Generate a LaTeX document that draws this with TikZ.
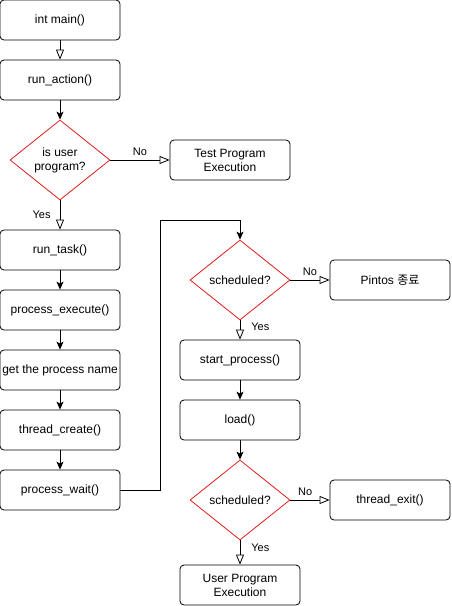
\documentclass[tikz,border=0pt]{standalone}
\usepackage{fontspec}
\setmainfont{Liberation Sans}
\newfontfamily\krfont{Noto Sans CJK KR}
\usetikzlibrary{shapes.geometric,arrows.meta}
\definecolor{decred}{RGB}{225,30,30}
\tikzset{
  stepbox/.style={draw, rounded corners=4pt, line width=0.8pt, minimum width=120pt,
    minimum height=40pt, inner sep=1pt, align=center, font=\fontsize{12}{14}\selectfont},
  decision/.style={draw=decred, diamond, line width=0.8pt, aspect=1.25, minimum width=100pt,
    minimum height=80pt, inner sep=0pt, align=center, font=\fontsize{12}{14}\selectfont},
  flow/.style={-{Stealth[length=8pt,width=7pt,inset=2pt]}, line width=0.8pt},
  hollow/.style={-{Triangle[open,length=10pt,width=8pt,fill=white]}, line width=0.8pt},
  answer/.style={font=\fontsize{11}{13}\selectfont, inner sep=1pt}
}
\begin{document}
\begin{tikzpicture}[x=1pt,y=-1pt]
      \useasboundingbox (0,0) rectangle (451,606);
      \draw
        (60,20) node[stepbox] (main){int main()}
        (60,80) node[stepbox] (action){run\_action()}
        (60,160) node[decision] (user){is user\\program?}
        (230,160) node[stepbox] (test){Test Program\\Execution}
        (60,250) node[stepbox] (task){run\_task()}
        (60,310) node[stepbox] (exec){process\_execute()}
        (60,370) node[stepbox] (name){get the process name}
        (60,430) node[stepbox] (create){thread\_create()}
        (60,490) node[stepbox] (wait){process\_wait()}
        (240,280) node[decision] (sched1){scheduled?}
        (390,280) node[stepbox] (pintos){Pintos {\krfont 종료}}
        (240,360) node[stepbox] (start){start\_process()}
        (240,420) node[stepbox] (load){load()}
        (240,500) node[decision] (sched2){scheduled?}
        (390,500) node[stepbox] (exit){thread\_exit()}
        (240,585) node[stepbox] (prog){User Program\\Execution};
      \coordinate (turn) at (160,220);
      \begin{scope}[flow]
        \draw (action) to (user);
        \draw (task) to (exec);
        \draw (exec) to (name);
        \draw (name) to (create);
        \draw (create) to (wait);
        \draw[-] (wait.east) -| (turn);
        \draw (turn) -| (sched1.north);
        \draw (start) to (load);
        \draw (load) to (sched2);
      \end{scope}
      \begin{scope}[hollow]
        \draw (main) to (action);
        \draw (user.east) to node[answer, above, pos=0.5, yshift=3pt] {No} (test.west);
        \draw (user.south) to node[answer, left, pos=0.5, xshift=-8pt] {Yes} (task.north);
        \draw (sched1.east) to node[answer, above, pos=0.5, yshift=3pt] {No} (pintos.west);
        \draw (sched1.south) to node[answer, right, pos=0.35, xshift=10pt] {Yes} (start.north);
        \draw (sched2.east) to node[answer, above, pos=0.375, yshift=3pt] {No} (exit.west);
        \draw (sched2.south) to node[answer, right, pos=0.32, xshift=10pt] {Yes} (prog.north);
      \end{scope}
    \end{tikzpicture}
\end{document}
